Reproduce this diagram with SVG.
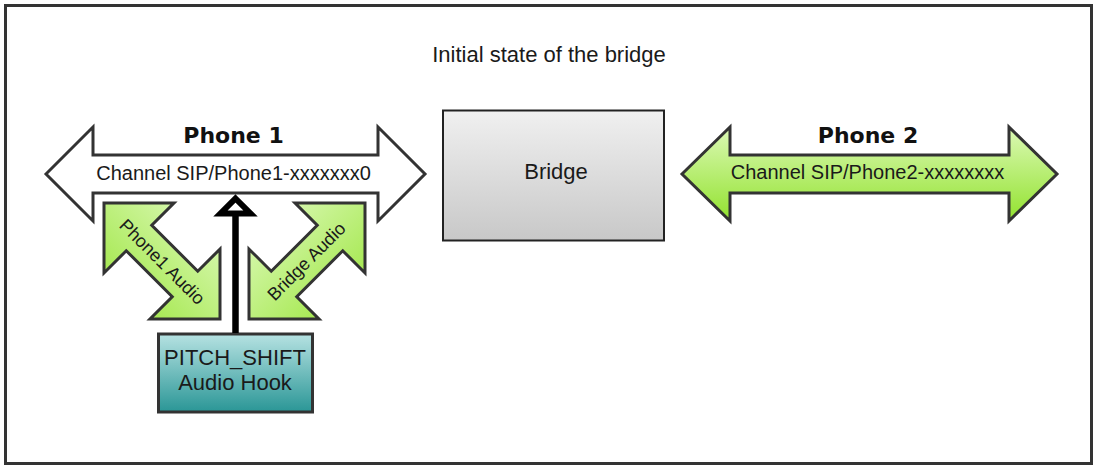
<svg xmlns="http://www.w3.org/2000/svg" width="1094" height="466" viewBox="0 0 1094 466">
  <defs>
    <linearGradient id="gGreen" x1="0" y1="0" x2="0" y2="1">
      <stop offset="0" stop-color="#dcf9b6"/>
      <stop offset="1" stop-color="#92e22e"/>
    </linearGradient>
    <linearGradient id="gGreenDiag1" x1="1" y1="0" x2="0" y2="1">
      <stop offset="0" stop-color="#e2fbc4"/>
      <stop offset="1" stop-color="#98e436"/>
    </linearGradient>
    <linearGradient id="gGreenDiag2" x1="0" y1="0" x2="1" y2="1">
      <stop offset="0" stop-color="#e2fbc4"/>
      <stop offset="1" stop-color="#98e436"/>
    </linearGradient>
    <linearGradient id="gGray" x1="0" y1="0" x2="0" y2="1">
      <stop offset="0" stop-color="#f0f0f0"/>
      <stop offset="1" stop-color="#c8c8c8"/>
    </linearGradient>
    <linearGradient id="gTeal" x1="0" y1="0" x2="0" y2="1">
      <stop offset="0" stop-color="#b6e2e2"/>
      <stop offset="1" stop-color="#2a9696"/>
    </linearGradient>
  </defs>
  <style>
    .outline { stroke: #333333; stroke-width: 3; stroke-linejoin: miter; }
    .txt { font-family: "Liberation Sans", Arial, sans-serif; fill: #1a1a1a; text-anchor: middle; }
    .bold { font-family: "DejaVu Sans", sans-serif; font-weight: bold; font-size: 22px; fill: #111111; text-anchor: middle; }
    .t22 { font-size: 22px; }
    .t20 { font-size: 20px; }
    .t18 { font-size: 18px; }
  </style>

  <rect x="0" y="0" width="1094" height="466" fill="#ffffff"/>
  <rect id="frame" x="5.5" y="5.5" width="1086" height="458" fill="#ffffff" stroke="#333333" stroke-width="3"/>

  <text id="title" class="txt t22" x="549" y="62">Initial state of the bridge</text>

  <g id="phone1">
    <polygon class="outline" fill="#ffffff" points="46,174 93,127 93,155 378,155 378,127 425,174 378,221 378,193 93,193 93,221"/>
    <text class="bold" x="233.5" y="143">Phone 1</text>
    <text class="txt t20" x="233.5" y="180">Channel SIP/Phone1-xxxxxxx0</text>
  </g>

  <g id="phone1-audio">
    <polygon class="outline" fill="url(#gGreenDiag1)" points="104,203 174,203 151.75,225.25 197.75,271.25 220,249 220,319 150,319 172.25,296.75 126.25,250.75 104,273"/>
    <text class="txt t18" x="0" y="6.5" transform="translate(162.5,261.5) rotate(45)">Phone1 Audio</text>
  </g>

  <g id="bridge-audio">
    <polygon class="outline" fill="url(#gGreenDiag2)" points="365,203 295,203 317.25,225.25 271.25,271.25 249,249 249,319 319,319 296.75,296.75 342.75,250.75 365,273"/>
    <text class="txt t18" x="0" y="6" transform="translate(306.5,261.5) rotate(-45)">Bridge Audio</text>
  </g>

  <g id="bridge">
    <rect x="443" y="110.5" width="221" height="130" fill="url(#gGray)" stroke="#222222" stroke-width="2"/>
    <text class="txt t22" x="556" y="179">Bridge</text>
  </g>

  <g id="phone2">
    <polygon class="outline" fill="url(#gGreen)" points="682,174 730,127 730,155 1009,155 1009,127 1057,174 1009,221 1009,193 730,193 730,221"/>
    <text class="bold" x="868" y="143">Phone 2</text>
    <text class="txt t20" x="867.5" y="179">Channel SIP/Phone2-xxxxxxxx</text>
  </g>

  <g id="pitch-shift">
    <rect x="158.5" y="334" width="154" height="78" fill="url(#gTeal)" stroke="#333333" stroke-width="3"/>
    <text class="txt t22" x="235" y="365">PITCH_SHIFT</text>
    <text class="txt t22" x="235" y="390">Audio Hook</text>
  </g>

  <g id="connectors">
    <line x1="235.5" y1="333" x2="235.5" y2="212" stroke="#000000" stroke-width="6.5"/>
    <polygon points="235.5,198.5 250.5,213.5 220.5,213.5" fill="#ffffff" stroke="#000000" stroke-width="6" stroke-linejoin="miter"/>
  </g>
</svg>
